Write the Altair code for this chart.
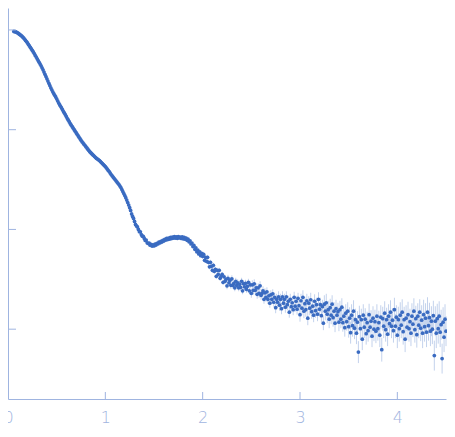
import altair as alt
import numpy as np
import pandas as pd

# scattering vector q (1/nm) sampling
q_low = np.round(np.arange(0.06, 1.995, 0.01), 2)
q_high = np.round(np.arange(2.00, 4.505, 0.01), 2)

# log10 intensity
logI_low = [-0.015,-0.017,-0.020,-0.025,-0.030,-0.037,-0.045,-0.052,-0.060,-0.070,
 -0.080,-0.092,-0.105,-0.117,-0.130,-0.145,-0.160,-0.175,-0.190,-0.205,
 -0.220,-0.237,-0.255,-0.272,-0.290,-0.307,-0.325,-0.342,-0.360,-0.380,
 -0.400,-0.422,-0.445,-0.467,-0.490,-0.512,-0.535,-0.558,-0.580,-0.600,
 -0.620,-0.638,-0.655,-0.672,-0.690,-0.710,-0.730,-0.748,-0.765,-0.782,
 -0.800,-0.818,-0.835,-0.852,-0.870,-0.888,-0.905,-0.922,-0.940,-0.955,
 -0.970,-0.985,-1.000,-1.015,-1.030,-1.045,-1.060,-1.075,-1.090,-1.105,
 -1.120,-1.132,-1.145,-1.157,-1.170,-1.182,-1.195,-1.208,-1.220,-1.230,
 -1.240,-1.250,-1.260,-1.270,-1.280,-1.288,-1.295,-1.302,-1.310,-1.320,
 -1.330,-1.340,-1.350,-1.360,-1.370,-1.382,-1.395,-1.408,-1.420,-1.435,
 -1.450,-1.462,-1.475,-1.488,-1.500,-1.512,-1.525,-1.538,-1.550,-1.565,
 -1.580,-1.600,-1.620,-1.640,-1.660,-1.682,-1.705,-1.730,-1.755,-1.782,
 -1.810,-1.845,-1.870,-1.890,-1.920,-1.950,-1.965,-1.975,-2.000,-2.022,
 -2.024,-2.052,-2.068,-2.069,-2.090,-2.110,-2.106,-2.134,-2.141,-2.136,
 -2.158,-2.149,-2.167,-2.155,-2.165,-2.148,-2.157,-2.139,-2.146,-2.128,
 -2.136,-2.119,-2.127,-2.109,-2.116,-2.099,-2.107,-2.090,-2.101,-2.086,
 -2.096,-2.080,-2.091,-2.076,-2.087,-2.073,-2.086,-2.075,-2.089,-2.072,
 -2.085,-2.077,-2.090,-2.074,-2.094,-2.079,-2.098,-2.087,-2.109,-2.098,
 -2.124,-2.114,-2.146,-2.136,-2.172,-2.160,-2.199,-2.184,-2.224,-2.207,
 -2.246,-2.226,-2.263,-2.240]

logI_high = [-2.27,-2.25,-2.31,-2.28,-2.32,-2.28,-2.33,-2.375,-2.33,-2.37,
 -2.41,-2.36,-2.42,-2.40,-2.47,-2.41,-2.45,-2.41,-2.49,-2.47,
 -2.45,-2.53,-2.475,-2.52,-2.50,-2.565,-2.49,-2.535,-2.51,-2.56,
 -2.495,-2.56,-2.54,-2.585,-2.52,-2.56,-2.535,-2.585,-2.55,-2.58,
 -2.52,-2.615,-2.545,-2.575,-2.54,-2.60,-2.57,-2.53,-2.615,-2.555,
 -2.64,-2.555,-2.61,-2.545,-2.61,-2.585,-2.65,-2.585,-2.64,-2.565,
 -2.66,-2.64,-2.615,-2.70,-2.635,-2.68,-2.625,-2.70,-2.665,-2.74,
 -2.655,-2.70,-2.645,-2.73,-2.68,-2.785,-2.70,-2.73,-2.675,-2.76,
 -2.70,-2.795,-2.675,-2.74,-2.70,-2.78,-2.675,-2.755,-2.72,-2.83,
 -2.70,-2.775,-2.735,-2.805,-2.68,-2.77,-2.72,-2.80,-2.69,-2.765,
 -2.855,-2.715,-2.79,-2.68,-2.82,-2.745,-2.805,-2.715,-2.89,-2.74,
 -2.79,-2.705,-2.825,-2.77,-2.86,-2.72,-2.815,-2.755,-2.85,-2.70,
 -2.80,-2.755,-2.865,-2.775,-2.94,-2.75,-2.82,-2.735,-2.85,-2.805,
 -2.90,-2.785,-2.86,-2.75,-2.885,-2.82,-2.94,-2.795,-2.86,-2.825,
 -2.93,-2.805,-2.90,-2.78,-2.935,-2.87,-2.985,-2.84,-2.925,-2.82,
 -2.975,-2.89,-3.035,-2.86,-2.965,-2.82,-2.99,-2.905,-3.04,-2.93,
 -3.23,-2.875,-2.995,-2.905,-3.10,-2.86,-2.98,-2.90,-3.045,-2.935,
 -3.015,-2.855,-2.98,-2.92,-3.07,-2.89,-3.00,-2.925,-3.02,-2.87,
 -2.995,-2.935,-3.06,-2.88,-3.205,-2.895,-2.97,-2.84,-3.005,-2.905,
 -3.05,-2.87,-2.945,-2.83,-2.97,-2.91,-3.015,-2.805,-2.97,-2.88,
 -3.06,-2.905,-2.995,-2.86,-2.96,-2.83,-3.025,-2.905,-3.10,-2.89,
 -2.98,-2.855,-2.995,-2.925,-3.04,-2.87,-2.95,-2.82,-3.005,-2.895,
 -3.055,-2.87,-2.96,-2.83,-2.99,-2.91,-3.04,-2.855,-2.975,-2.89,
 -3.03,-2.83,-2.965,-2.885,-3.02,-2.92,-3.00,-2.865,-3.265,-2.92,
 -3.04,-2.895,-2.995,-2.87,-3.03,-2.955,-3.295,-2.93,-3.08,-2.90,
 -3.02]

# error size (log10 decades) per q range
err_edges = [0.0, 1.0, 1.5, 2.0, 2.25, 2.5, 2.75, 3.0, 3.25, 3.5, 3.75, 4.0, 4.25]
err_vals = [0.003, 0.006, 0.012, 0.025, 0.035, 0.045, 0.055, 0.07, 0.09, 0.11, 0.12, 0.13, 0.15]

x_ticks = [0, 1, 2, 3, 4]
y_ticks = [1, 0.1, 0.01, 0.001]

q = np.concatenate([q_low, q_high])
logI = np.array(logI_low + logI_high)
e = np.array(err_vals)[np.searchsorted(err_edges, q, side="right") - 1]
df = pd.DataFrame({"q": q, "I": 10 ** logI, "lo": 10 ** (logI - e), "hi": 10 ** (logI + e)})

W, H = 438, 391
AX = "#9fb4e0"
xs = alt.Scale(domain=[0, 4.5], nice=False, zero=False)
ys = alt.Scale(type="log", domain=[10 ** -3.7, 10 ** 0.22], nice=False)
xaxis = alt.Axis(values=x_ticks, title=None, ticks=False, tickSize=0, grid=False,
                 labelPadding=10, domainColor=AX, labelColor=AX, labelFontSize=16,
                 labelFlush=False, labelFont="DejaVu Sans", labelFontWeight=300)
yaxis = alt.Axis(title=None, labels=False, ticks=False, tickSize=0, grid=False, domainColor=AX)

bars = alt.Chart(df).mark_rule(color="#c3d2ec", strokeWidth=1).encode(
    x=alt.X("q:Q", scale=xs, axis=xaxis),
    y=alt.Y("lo:Q", scale=ys, axis=yaxis),
    y2="hi:Q",
)
pts = alt.Chart(df).mark_circle(size=14, color="#3a6bc1", opacity=1).encode(
    x=alt.X("q:Q", scale=xs, axis=xaxis),
    y=alt.Y("I:Q", scale=ys, axis=yaxis),
)
xt = alt.Chart(pd.DataFrame({"t": x_ticks})).mark_rule(color=AX, strokeWidth=1).encode(
    x=alt.X("t:Q", scale=xs, axis=xaxis), y=alt.value(H - 7), y2=alt.value(H)
)
yt = alt.Chart(pd.DataFrame({"v": y_ticks})).mark_rule(color=AX, strokeWidth=1).encode(
    y=alt.Y("v:Q", scale=ys, axis=yaxis), x=alt.value(0), x2=alt.value(8)
)

chart = alt.layer(bars, pts, xt, yt).properties(
    width=W, height=H, autosize="none",
    padding={"left": 0, "top": 0, "right": 1, "bottom": 29},
).configure_view(strokeWidth=0)

chart.save("out.html", embed_options={"renderer": "svg", "actions": False})
